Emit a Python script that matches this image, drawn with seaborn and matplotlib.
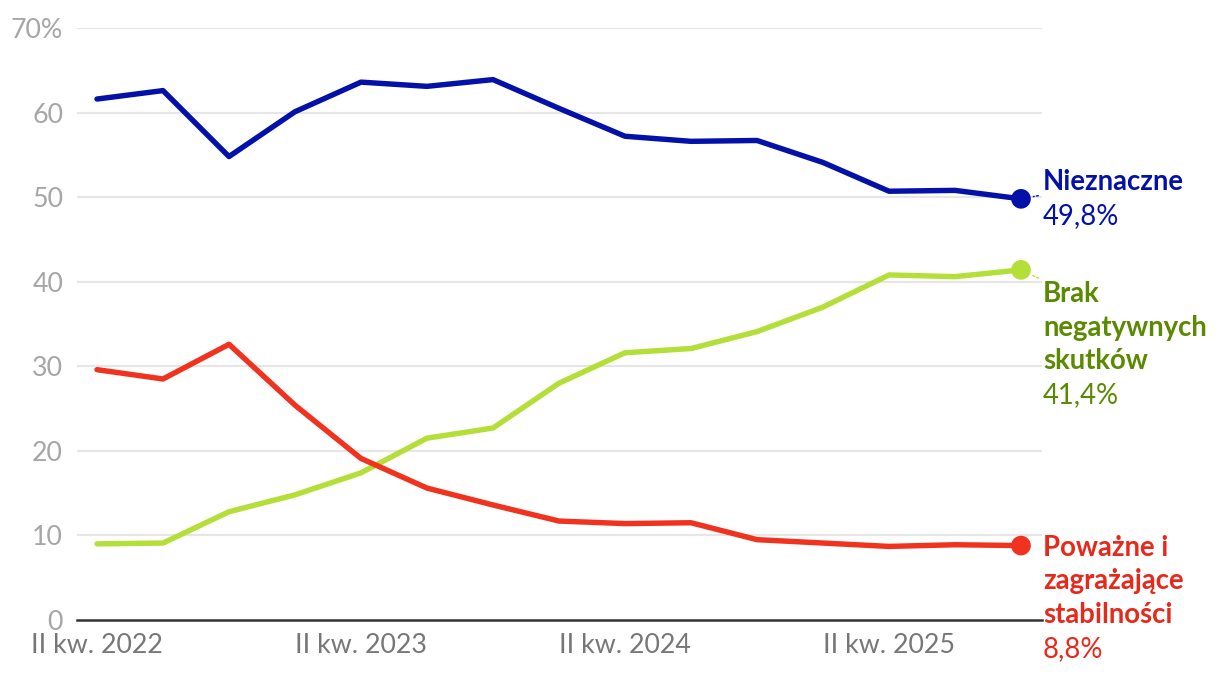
import matplotlib
matplotlib.use("Agg")
import matplotlib.pyplot as plt
import seaborn as sns
import pandas as pd
import numpy as np

# ---------------- data ----------------
quarters = ["II kw. 2022", "III kw. 2022", "IV kw. 2022", "I kw. 2023",
            "II kw. 2023", "III kw. 2023", "IV kw. 2023", "I kw. 2024",
            "II kw. 2024", "III kw. 2024", "IV kw. 2024", "I kw. 2025",
            "II kw. 2025", "III kw. 2025", "IV kw. 2025"]
nieznaczne = [61.6, 62.6, 54.8, 60.1, 63.6, 63.1, 63.9, 60.5, 57.2, 56.6, 56.7, 54.1, 50.7, 50.8, 49.8]
brak = [9.0, 9.1, 12.8, 14.8, 17.4, 21.5, 22.7, 28.0, 31.6, 32.1, 34.1, 37.0, 40.8, 40.6, 41.4]
powazne = [29.6, 28.5, 32.6, 25.4, 19.1, 15.6, 13.6, 11.7, 11.4, 11.5, 9.5, 9.1, 8.7, 8.9, 8.8]

series_names = ["Nieznaczne", "Brak negatywnych skutków", "Poważne i zagrażające stabilności"]
label_lines = [["Nieznaczne"], ["Brak", "negatywnych", "skutków"],
               ["Poważne i", "zagrażające", "stabilności"]]
value_labels = ["49,8%", "41,4%", "8,8%"]
xtick_labels = ["II kw. 2022", "II kw. 2023", "II kw. 2024", "II kw. 2025"]
ytick_values = [0, 10, 20, 30, 40, 50, 60, 70]
ytick_labels = ["0", "10", "20", "30", "40", "50", "60", "70%"]

# ---------------- style ----------------
line_colors = ["#0411a8", "#b4df38", "#f0321e"]
text_colors = ["#0411a8", "#5a8a00", "#e8281a"]

sns.set_style("white")
plt.rcParams["font.family"] = ["Lato", "DejaVu Sans"]

values = [nieznaczne, brak, powazne]
rows = []
for name, vals in zip(series_names, values):
    for i, (q, v) in enumerate(zip(quarters, vals)):
        rows.append({"idx": i, "quarter": q, "series": name, "value": v})
df = pd.DataFrame(rows)
last = df[df["idx"] == len(quarters) - 1]

fig = plt.figure(figsize=(12.2, 6.76), dpi=100)
ax = fig.add_axes([77 / 1220, 1 - 620 / 676, (1042 - 77) / 1220, (620 - 28) / 676])

for yv in ytick_values[1:]:
    ax.axhline(yv, color="#e6e6e6", lw=1.5, zorder=0)

palette = dict(zip(series_names, line_colors))
sns.lineplot(data=df, x="idx", y="value", hue="series", palette=palette,
             linewidth=3.9, legend=False, ax=ax, zorder=3)
sns.scatterplot(data=last, x="idx", y="value", hue="series", palette=palette,
                s=200, edgecolor="none", legend=False, ax=ax, zorder=4)

ax.set_ylim(0, 70)
ax.set_xlim(-20 / 66, 14 + 21 / 66)
ax.set_yticks(ytick_values)
ax.set_yticklabels(ytick_labels)
xticks_idx = [quarters.index(q) for q in xtick_labels]
ax.set_xticks(xticks_idx)
ax.set_xticklabels(xtick_labels)
ax.tick_params(axis="y", length=0, pad=10, labelsize=19.3, labelcolor="#a6a6a6")
ax.tick_params(axis="x", length=0, pad=9.5, labelsize=19.3, labelcolor="#777777")
ax.set_xlabel("")
ax.set_ylabel("")
for s in ["top", "right", "left"]:
    ax.spines[s].set_visible(False)
ax.spines["bottom"].set_color("#333333")
ax.spines["bottom"].set_linewidth(1.8)
ax.spines["bottom"].set_zorder(5)

# ---------------- end labels ----------------
first_dy = [9, -32, -10]      # baseline offsets (pixels) of first line from dot
step = 33.8
dx = 22
for k in range(3):
    yv = values[k][-1]
    n = len(label_lines[k])
    for j, line in enumerate(label_lines[k]):
        kw = {}
        if j == 0 and k < 2:
            kw["arrowprops"] = dict(arrowstyle="-", color=line_colors[k], lw=1.0,
                                    linestyle=(0, (1.5, 1.5)), shrinkA=1, shrinkB=9)
        ax.annotate(line, xy=(14, yv), xytext=(dx, first_dy[k] - j * step),
                    textcoords="offset pixels", ha="left", va="baseline",
                    fontsize=19.8, fontweight="bold", color=text_colors[k],
                    annotation_clip=False, **kw)
    ax.annotate(value_labels[k], xy=(14, yv), xytext=(dx, first_dy[k] - n * step),
                textcoords="offset pixels", ha="left", va="baseline",
                fontsize=19.8, color=text_colors[k], annotation_clip=False)

fig.savefig("out.png", dpi=100)
